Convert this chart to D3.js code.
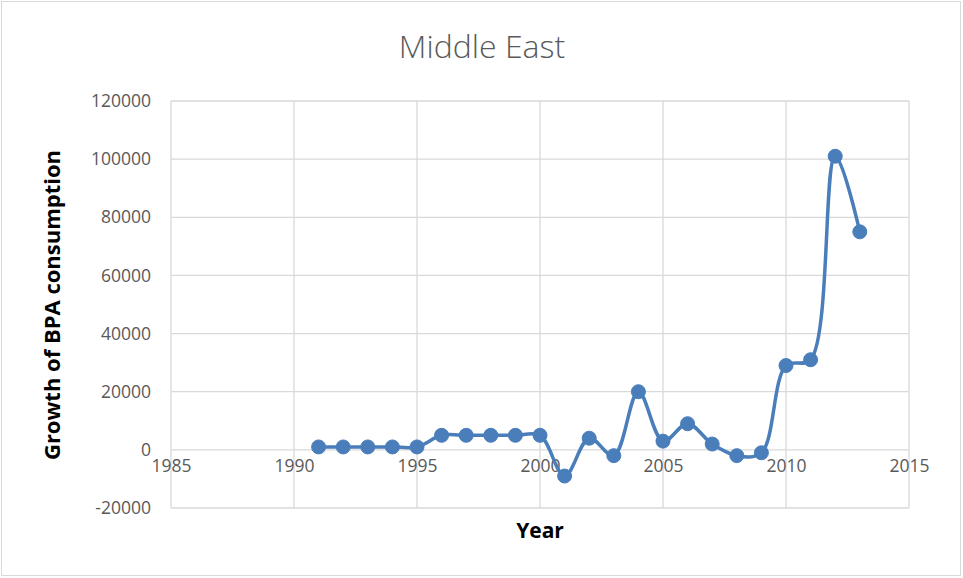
<!DOCTYPE html>
<html>
<head>
<meta charset="utf-8">
<script src="https://cdn.jsdelivr.net/npm/d3@7"></script>
<style>
  html, body { margin: 0; padding: 0; background: #fff; }
  svg { display: block; }
  text { font-family: "Open Sans", "Liberation Sans", sans-serif; }
</style>
</head>
<body>
<svg id="chart" width="963" height="578"></svg>
<script>
const years = [1991,1992,1993,1994,1995,1996,1997,1998,1999,2000,2001,2002,2003,2004,2005,2006,2007,2008,2009,2010,2011,2012,2013];
const growth = [1000,1000,1000,1000,1000,5000,5000,5000,5000,5000,-9000,4000,-2000,20000,3000,9000,2000,-2000,-1000,29000,31000,101000,75000];
const xTicks = [1985,1990,1995,2000,2005,2010,2015];
const yTicks = [-20000,0,20000,40000,60000,80000,100000,120000];
const title = "Middle East";
const xTitle = "Year";
const yTitle = "Growth of BPA consumption";

const svg = d3.select("#chart");
const W = 963, H = 578;
const m = {left: 171, right: 963 - 909, top: 101, bottom: 578 - 508};

svg.append("rect").attr("x", 1.5).attr("y", 1.5).attr("width", W - 4).attr("height", H - 4)
  .attr("fill", "#fff").attr("stroke", "#d9d9d9").attr("stroke-width", 1);

const x = d3.scaleLinear().domain([1985, 2015]).range([m.left, W - m.right]);
const y = d3.scaleLinear().domain([-20000, 120000]).range([H - m.bottom, m.top]);
const fmt = d => String(d);

// gridlines
const g = svg.append("g");
g.selectAll("line.h").data(yTicks).enter().append("line")
  .attr("x1", x(1985)).attr("x2", x(2015))
  .attr("y1", d => y(d)).attr("y2", d => y(d))
  .attr("stroke", "#d9d9d9").attr("stroke-width", 1.3);
g.selectAll("line.v").data(xTicks).enter().append("line")
  .attr("x1", d => x(d)).attr("x2", d => x(d))
  .attr("y1", y(-20000)).attr("y2", y(120000))
  .attr("stroke", "#d9d9d9").attr("stroke-width", 1.3);

// y axis labels
const yAxis = d3.axisLeft(y).tickValues(yTicks).tickFormat(fmt).tickSize(0).tickPadding(20);
const ya = svg.append("g").attr("transform", `translate(${x(1985)},0)`).call(yAxis);
ya.select(".domain").remove();
ya.selectAll("text").attr("fill", "#595959").style("font-size", "17.5px")
  .style("font-family", "'Open Sans', 'Liberation Sans', sans-serif");

// x axis labels at y=0
const xAxis = d3.axisBottom(x).tickValues(xTicks).tickFormat(fmt).tickSize(0).tickPadding(10);
const xa = svg.append("g").attr("transform", `translate(0,${y(0)})`).call(xAxis);
xa.select(".domain").remove();
xa.selectAll("text").attr("fill", "#595959").style("font-size", "17.5px")
  .style("font-family", "'Open Sans', 'Liberation Sans', sans-serif");

// line
const data = years.map((yr, i) => ({yr, v: growth[i]}));
const line = d3.line().x(d => x(d.yr)).y(d => y(d.v)).curve(d3.curveCatmullRom.alpha(0.5));
svg.append("path").datum(data).attr("d", line)
  .attr("fill", "none").attr("stroke", "#4a7ebb").attr("stroke-width", 3.5)
  .attr("stroke-linejoin", "round").attr("stroke-linecap", "round");
svg.selectAll("circle.pt").data(data).enter().append("circle")
  .attr("cx", d => x(d.yr)).attr("cy", d => y(d.v)).attr("r", 7)
  .attr("fill", "#4a7ebb").attr("stroke", "#4a7ebb").attr("stroke-width", 1);

// titles
svg.append("text").attr("x", 482).attr("y", 58).attr("text-anchor", "middle")
  .attr("fill", "#595959").style("font-size", "32px").style("font-weight", 300).text(title);
svg.append("text").attr("x", 540).attr("y", 538).attr("text-anchor", "middle")
  .attr("fill", "#000").style("font-size", "21px").style("font-weight", "bold").text(xTitle);
svg.append("text").attr("transform", "translate(60,305) rotate(-90)").attr("text-anchor", "middle")
  .attr("fill", "#000").style("font-size", "22px").style("font-weight", "bold").text(yTitle);
</script>
</body>
</html>
